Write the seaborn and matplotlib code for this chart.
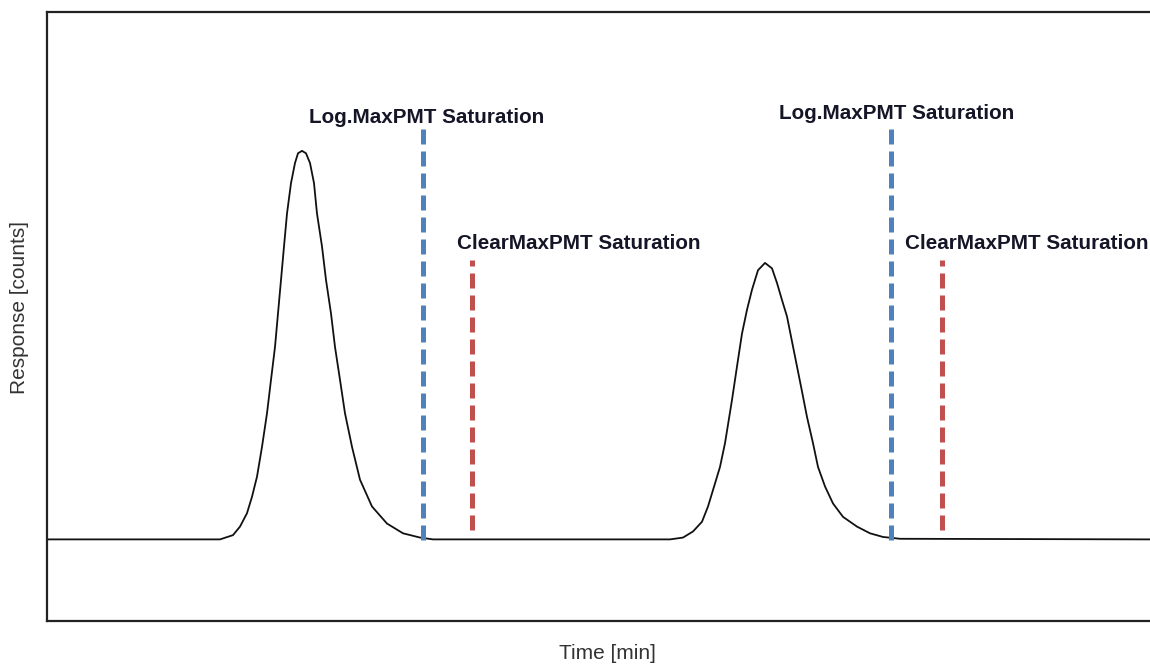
import numpy as np
import matplotlib
matplotlib.use("Agg")
import matplotlib.pyplot as plt
import pandas as pd
import seaborn as sns

# chromatogram trace (time units arbitrary, response in % of axis)
time = [0.0, 17.3, 18.6, 19.3, 20.0, 20.5, 21.0, 21.5, 22.0, 22.4, 22.8, 23.1, 23.4,
        23.7, 24.0, 24.4, 24.8, 25.1, 25.5, 25.9, 26.3, 26.7, 27.0, 27.5, 27.9, 28.4,
        28.8, 29.3, 29.8, 30.5, 31.3, 32.5, 34.0, 35.6, 37.3, 38.6,
        62.3, 63.6, 64.6, 65.5, 66.1, 66.6, 67.3, 67.8, 68.5, 69.0, 69.5, 70.0, 70.5,
        71.1, 71.8, 72.5, 73.0, 73.5, 74.0, 74.5, 75.0, 75.5, 76.0, 76.6, 77.1, 77.8,
        78.6, 79.6, 81.0, 82.3, 83.6, 85.3, 110.3]
response = [13.4, 13.4, 14.1, 15.5, 17.7, 20.4, 23.7, 28.6, 34.1, 39.6, 45.0, 50.5, 56.0,
            61.5, 66.9, 71.9, 75.2, 76.8, 77.2, 76.8, 75.2, 71.9, 66.9, 61.5, 56.0, 50.5,
            45.0, 39.6, 34.1, 28.6, 23.2, 18.8, 16.0, 14.4, 13.7, 13.4,
            13.4, 13.7, 14.7, 16.3, 18.8, 21.5, 25.3, 29.2, 36.3, 41.8, 47.2, 51.1, 54.4,
            57.6, 58.8, 57.9, 55.5, 52.7, 50.0, 45.9, 41.8, 37.7, 33.5, 29.2, 25.3, 22.1,
            19.3, 17.1, 15.5, 14.4, 13.8, 13.5, 13.4]

# saturation markers
log_x = [37.6, 84.4]
log_top = 80.9
log_bottom = 13.3
clear_x = [42.5, 89.5]
clear_top = 59.2
clear_bottom = 14.9

log_label = "Log.MaxPMT Saturation"
clear_label = "ClearMaxPMT Saturation"
log_label_pos = [(26.2, 82.6), (73.2, 83.3)]
clear_label_pos = [(41.0, 62.0), (85.8, 62.0)]

df = pd.DataFrame({"Time": time, "Response": response})

sns.set_style("white")
plt.rcParams['font.family'] = ['Liberation Sans', 'DejaVu Sans']

fig = plt.figure(figsize=(11.5, 6.65), dpi=100)
ax = fig.add_axes([47 / 1150, 44 / 665, 1103 / 1150, 609 / 665])

sns.lineplot(data=df, x="Time", y="Response", color="#111111", linewidth=1.3,
             sort=False, estimator=None, ax=ax)

ax.vlines(log_x, log_bottom, log_top, colors="#4F81BD", linewidth=3.6,
          linestyles=(0, (3, 1.4)))
ax.vlines(clear_x, clear_bottom, clear_top, colors="#C0504D", linewidth=3.6,
          linestyles=(0, (3, 1.4)))

for x, y in log_label_pos:
    ax.text(x, y, log_label, fontsize=14.9, fontweight="bold", color="#151528",
            ha="left", va="center")
for x, y in clear_label_pos:
    ax.text(x, y, clear_label, fontsize=14.9, fontweight="bold", color="#151528",
            ha="left", va="center")

ax.set_xlim(0, 110.3)
ax.set_ylim(0, 100)
ax.set_xticks([])
ax.set_yticks([])
ax.set_xlabel("Time [min]", fontsize=15, color="#333333")
ax.set_ylabel("Response [counts]", fontsize=15, color="#333333")
ax.xaxis.set_label_coords(0.508, -0.038)
ax.yaxis.set_label_coords(-0.016, 0.515)

for side in ["left", "top", "bottom"]:
    ax.spines[side].set_color("#222222")
    ax.spines[side].set_linewidth(1.6)
ax.spines["right"].set_visible(False)

fig.savefig("out.png", dpi=100)
